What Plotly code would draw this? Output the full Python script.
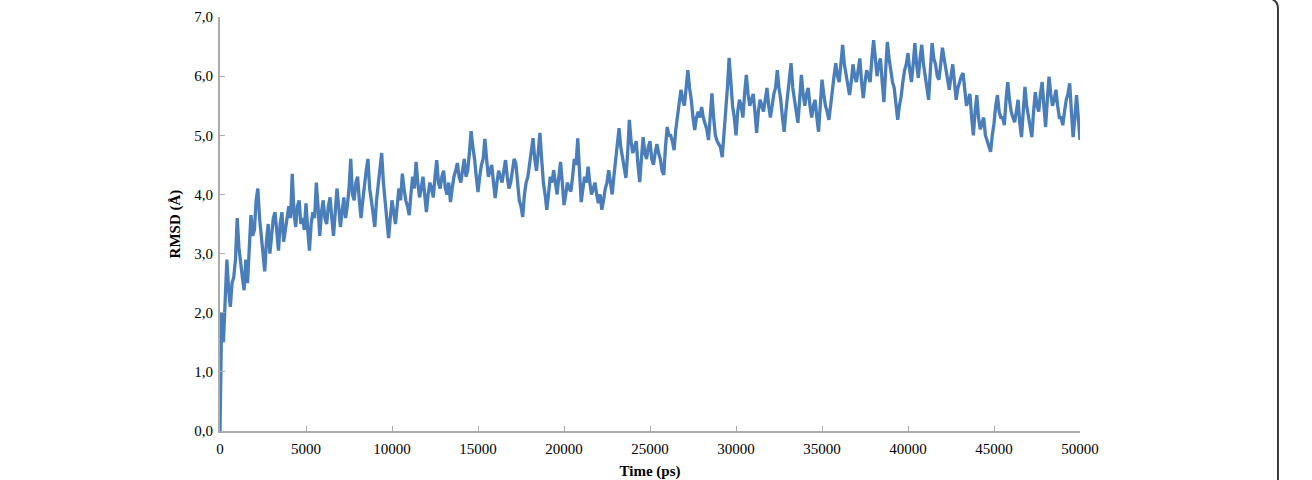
import plotly.graph_objects as go

# RMSD read at every 200 ps (even samples) and the values read between them (odd samples, 100 ps later)
rmsd_even = [
    0.0, 1.5, 2.9, 2.1, 2.6, 3.6, 2.8, 2.38, 2.5, 3.65,
    3.4, 4.1, 3.3, 2.7, 3.5, 3.3, 3.7, 3.05, 3.7, 3.4,
    3.8, 4.35, 3.45, 3.9, 3.6, 3.85, 3.05, 3.7, 4.2, 3.3,
    3.9, 3.5, 3.95, 3.3, 4.1, 3.45, 3.95, 3.8, 4.6, 3.9,
    4.3, 3.6, 4.2, 4.6, 3.9, 3.45, 4.2, 4.7, 3.9, 3.26,
    3.9, 3.5, 4.1, 4.35, 3.9, 3.65, 4.3, 4.55, 3.95, 4.3,
    3.7, 4.2, 3.95, 4.58, 4.1, 4.4, 4.0, 3.87, 4.3, 4.53,
    4.2, 4.6, 4.4, 5.07, 4.6, 4.04, 4.5, 4.94, 4.3, 4.5,
    3.94, 4.4, 4.2, 4.58, 4.1, 4.4, 4.53, 3.9, 3.62, 4.2,
    4.5, 4.95, 4.4, 5.04, 4.2, 3.74, 4.3, 4.41, 4.0, 4.55,
    3.82, 4.2, 4.05, 4.6, 4.95, 3.87, 4.3, 4.47, 4.0, 4.2,
    3.85, 3.74, 4.1, 4.41, 4.0, 4.6, 5.12, 4.6, 4.28, 5.26,
    4.7, 4.9, 4.21, 4.97, 4.6, 4.9, 4.5, 4.85, 4.6, 4.33,
    5.14, 5.0, 4.75, 5.3, 5.77, 5.5, 6.1, 5.6, 5.09, 5.4,
    5.48, 5.2, 4.92, 5.71, 5.0, 4.85, 4.63, 5.4, 6.31, 5.5,
    5.0, 5.6, 5.3, 6.02, 5.5, 5.7, 5.04, 5.6, 5.4, 5.8,
    5.3, 5.7, 6.1, 5.6, 5.06, 5.7, 6.22, 5.6, 5.21, 6.02,
    5.5, 5.8, 5.3, 5.6, 5.06, 5.94, 5.5, 5.26, 5.8, 6.22,
    5.9, 6.53, 6.0, 5.68, 6.2, 5.9, 6.3, 5.63, 6.1, 5.9,
    6.61, 6.0, 6.3, 5.56, 6.58, 6.1, 5.8, 5.26, 5.65, 6.1,
    6.39, 5.9, 6.56, 5.97, 6.53, 6.0, 5.6, 6.56, 6.2, 5.94,
    6.48, 6.1, 5.77, 6.2, 5.6, 5.9, 6.05, 5.5, 5.7, 5.0,
    5.68, 5.1, 5.3, 4.9, 4.72, 5.2, 5.68, 5.3, 5.17, 5.9,
    5.4, 5.22, 5.6, 4.97, 5.82, 5.3, 4.97, 5.73, 5.4, 5.9,
    5.14, 5.99, 5.5, 5.77, 5.3, 5.17, 5.6, 5.88, 4.97, 5.68,
    4.92,
]

rmsd_odd = [
    2.0, 2.3, 2.4, 2.5, 2.9, 3.1, 2.6, 2.9, 3.0, 3.3,
    3.9, 3.6, 3.1, 3.2, 3.0, 3.6, 3.4, 3.5, 3.2, 3.6,
    3.6, 3.7, 3.8, 3.5, 3.4, 3.4, 3.5, 3.6, 3.8, 3.7,
    3.6, 3.8, 3.6, 3.7, 3.8, 3.7, 3.6, 4.1, 4.0, 4.2,
    3.9, 3.9, 4.4, 4.1, 3.7, 3.9, 4.4, 4.2, 3.6, 3.6,
    3.7, 3.8, 3.9, 4.1, 3.8, 4.0, 4.1, 4.2, 4.1, 4.0,
    4.0, 4.1, 4.3, 4.2, 4.3, 4.1, 4.2, 4.1, 4.4, 4.3,
    4.4, 4.3, 4.7, 4.8, 4.3, 4.3, 4.6, 4.6, 4.4, 4.2,
    4.2, 4.3, 4.4, 4.3, 4.2, 4.6, 4.2, 3.8, 4.0, 4.3,
    4.7, 4.6, 4.7, 4.6, 4.0, 4.0, 4.2, 4.2, 4.3, 4.2,
    4.0, 4.1, 4.3, 4.5, 4.4, 4.1, 4.2, 4.2, 4.1, 4.0,
    4.0, 3.9, 4.2, 4.2, 4.3, 4.8, 4.8, 4.4, 4.7, 4.9,
    4.8, 4.5, 4.6, 4.7, 4.8, 4.6, 4.7, 4.7, 4.4, 4.8,
    5.0, 4.9, 5.1, 5.5, 5.6, 5.8, 5.8, 5.3, 5.3, 5.3,
    5.3, 5.1, 5.3, 5.3, 4.9, 4.8, 5.0, 5.8, 5.8, 5.3,
    5.4, 5.5, 5.7, 5.7, 5.6, 5.4, 5.4, 5.5, 5.6, 5.5,
    5.5, 5.8, 5.8, 5.3, 5.4, 5.9, 5.8, 5.4, 5.6, 5.7,
    5.7, 5.5, 5.5, 5.3, 5.5, 5.7, 5.4, 5.5, 6.0, 6.0,
    6.2, 6.2, 5.8, 5.9, 6.0, 6.1, 5.9, 5.9, 6.0, 6.3,
    6.3, 6.2, 5.9, 6.1, 6.3, 5.9, 5.5, 5.5, 5.9, 6.2,
    6.1, 6.2, 6.2, 6.3, 6.2, 5.8, 6.1, 6.3, 6.0, 6.2,
    6.3, 5.9, 6.0, 5.9, 5.8, 6.0, 5.7, 5.6, 5.3, 5.4,
    5.3, 5.2, 5.0, 4.8, 5.0, 5.5, 5.4, 5.3, 5.6, 5.6,
    5.3, 5.4, 5.2, 5.4, 5.5, 5.1, 5.4, 5.5, 5.7, 5.5,
    5.6, 5.7, 5.6, 5.5, 5.3, 5.4, 5.7, 5.4, 5.3, 5.3,
]

time_ps = list(range(0, 50001, 100))
rmsd = []
for i, v in enumerate(rmsd_even):
    rmsd.append(v)
    if i < len(rmsd_odd):
        rmsd.append(rmsd_odd[i])

x_ticks = [0, 5000, 10000, 15000, 20000, 25000, 30000, 35000, 40000, 45000, 50000]
y_ticks = [0, 1, 2, 3, 4, 5, 6, 7]

font_family = "Liberation Serif, Times New Roman, serif"
axis_gray = "#ababab"

fig = go.Figure()
fig.add_trace(go.Scatter(
    x=time_ps, y=rmsd, mode="lines",
    line=dict(color="#4a7ebb", width=3.3),
    showlegend=False,
))

fig.update_layout(
    width=1312, height=480,
    margin=dict(l=220, r=232, t=17, b=49),
    paper_bgcolor="white", plot_bgcolor="white",
    separators=",.",
    font=dict(family=font_family, size=15, color="#000000"),
    xaxis=dict(
        range=[0, 50000], tickvals=x_ticks, tickformat="d",
        showgrid=False, zeroline=False, automargin=False,
        showline=True, linecolor=axis_gray, linewidth=2,
        ticks="inside", ticklen=5, tickcolor=axis_gray, tickwidth=1,
        ticklabelstandoff=3,
        tickfont=dict(family=font_family, size=15),
        title=dict(text="<b>Time (ps)</b>", font=dict(family=font_family, size=15), standoff=12),
    ),
    yaxis=dict(
        range=[0, 7], tickvals=y_ticks, tickformat=".1f",
        showgrid=False, zeroline=False, automargin=False,
        showline=True, linecolor=axis_gray, linewidth=2,
        ticks="inside", ticklen=5, tickcolor=axis_gray, tickwidth=1,
        ticklabelstandoff=2,
        tickfont=dict(family=font_family, size=15),
        title=dict(text="<b>RMSD (Å)</b>", font=dict(family=font_family, size=15), standoff=10),
    ),
    shapes=[dict(
        type="path", xref="paper", yref="paper",
        path="M 1.2302 -0.13 L 1.2302 1.02 Q 1.2302 1.037 1.224 1.042",
        line=dict(color="#3a3a3a", width=2),
    )],
)

fig.write_html("out.html")
